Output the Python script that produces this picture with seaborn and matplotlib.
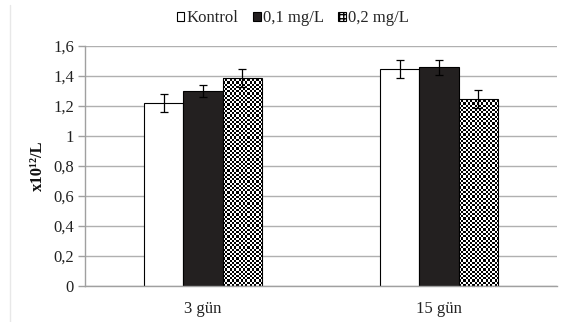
import numpy as np
import pandas as pd
import matplotlib
matplotlib.use("Agg")
import matplotlib.pyplot as plt
from matplotlib.patches import Patch
from matplotlib.lines import Line2D
import seaborn as sns

# Data
days = ["3 gün", "15 gün"]
groups = ["Kontrol", "0,1 mg/L", "0,2 mg/L"]
kontrol = [1.22, 1.45]
dose_01 = [1.30, 1.46]
dose_02 = [1.39, 1.25]
err_kontrol = [0.06, 0.06]
err_01 = [0.04, 0.05]
err_02 = [0.06, 0.06]
y_ticks = [0, 0.2, 0.4, 0.6, 0.8, 1.0, 1.2, 1.4, 1.6]
y_tick_labels = ["0", "0,2", "0,4", "0,6", "0,8", "1", "1,2", "1,4", "1,6"]

means = [kontrol, dose_01, dose_02]
errs = [err_kontrol, err_01, err_02]
df = pd.DataFrame({
    "day": [d for _ in groups for d in days],
    "group": [g for g in groups for _ in days],
    "value": [v for series in means for v in series],
})

sns.set_theme(style="white")
plt.rcParams["font.family"] = ["Liberation Serif", "DejaVu Serif"]

fig = plt.figure(figsize=(5.7, 3.22), dpi=100)
ax = fig.add_axes([85 / 570, 36 / 322, 472 / 570, 240 / 322])

sns.barplot(data=df, x="day", y="value", hue="group", order=days,
            hue_order=groups, palette=["white", "#231f20", "white"],
            width=0.5, errorbar=None, edgecolor="black", linewidth=0.8,
            legend=False, ax=ax)

ax.set_ylim(0, 1.6)
ax.set_xlim(-0.5, 1.5)
ax.set_yticks(y_ticks)
ax.set_yticklabels(y_tick_labels)
ax.yaxis.grid(True, color="#b0b0b0", linewidth=1.0)
ax.set_axisbelow(True)
for side in ["top", "right"]:
    ax.spines[side].set_visible(False)
for side in ["left", "bottom"]:
    ax.spines[side].set_color("#a0a0a0")
    ax.spines[side].set_linewidth(1.0)
ax.tick_params(axis="y", left=True, length=5, width=1.0, color="#a0a0a0",
               labelsize=12, pad=3, labelcolor="#222222")
ax.tick_params(axis="x", bottom=False, labelsize=12, pad=5,
               labelcolor="#222222")
ax.set_xlabel("")
ax.set_ylabel("x10¹²/L", fontsize=12, fontweight="bold", labelpad=5,
              color="#111111")

# Error bars at the bar centres
for container, err in zip(ax.containers, errs):
    xs = [p.get_x() + p.get_width() / 2 for p in container.patches]
    ys = [p.get_height() for p in container.patches]
    ax.errorbar(xs, ys, yerr=err, fmt="none", ecolor="black",
                elinewidth=0.9, capsize=3, capthick=0.9, zorder=5)

# Checkerboard fill for the 0,2 mg/L bars
fig.canvas.draw()
px_per_x = ax.transData.transform((1, 0))[0] - ax.transData.transform((0, 0))[0]
px_per_y = ax.transData.transform((0, 1))[1] - ax.transData.transform((0, 0))[1]
for p in ax.containers[2].patches:
    x0, w, h = p.get_x(), p.get_width(), p.get_height()
    nx = max(1, int(round(w * px_per_x / 2.2)))
    ny = max(1, int(round(h * px_per_y / 2.2)))
    board = (np.add.outer(np.arange(ny), np.arange(nx)) % 2).astype(float)
    im = ax.imshow(board, cmap="gray", vmin=0, vmax=1, aspect="auto",
                   interpolation="nearest", extent=[x0, x0 + w, 0, h],
                   origin="lower", zorder=p.get_zorder())
    im.set_clip_path(p)
    p.set_facecolor("none")
    p.set_zorder(p.get_zorder() + 0.1)
ax.set_xlim(-0.5, 1.5)
ax.set_ylim(0, 1.6)

# Legend
handles = [
    Patch(facecolor="white", edgecolor="black", linewidth=0.8),
    Patch(facecolor="#231f20", edgecolor="black", linewidth=0.8),
    Patch(facecolor="white", edgecolor="black", linewidth=0.8, hatch="++++"),
]
fig.legend(handles, groups, loc="center",
           bbox_to_anchor=(293 / 570, 1 - 18 / 322),
           ncol=3, frameon=False, fontsize=12, handlelength=0.45,
           handleheight=0.45, handletextpad=0.15, columnspacing=0.85,
           borderaxespad=0, borderpad=0)

# Thin frame line on the left edge
fig.add_artist(Line2D([10 / 570, 10 / 570], [0, 1 - 5 / 322],
                      transform=fig.transFigure, color="#e8e8e8", linewidth=1))

fig.savefig("out.png", dpi=100)
